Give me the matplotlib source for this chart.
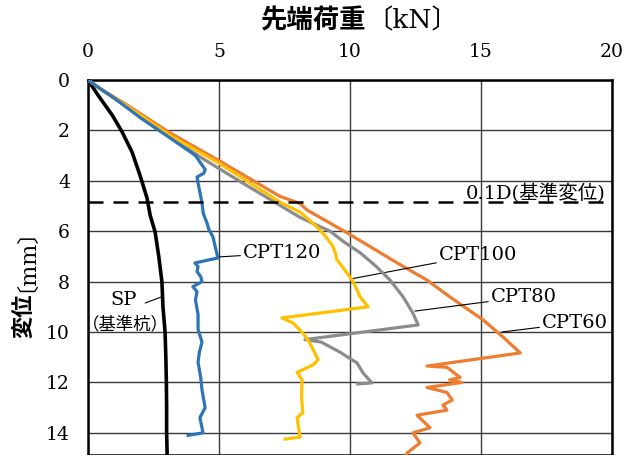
import matplotlib
matplotlib.use("Agg")
import matplotlib.pyplot as plt

plt.rcParams['font.family'] = ['DejaVu Serif', 'Noto Sans CJK JP']

# Load (kN) vs settlement (mm) for each pile
sp_load = [0, 0.38, 0.92, 1.3, 1.68, 1.98, 2.25, 2.37, 2.56, 2.7, 2.82, 2.86, 2.94, 2.97, 2.99, 3.0, 3.0, 3.02]
sp_disp = [0, 0.6, 1.39, 2.06, 2.86, 3.77, 4.68, 5.36, 6.03, 7.0, 8.0, 9.0, 10.0, 11.0, 12.0, 13.0, 14.0, 14.9]

cpt120_load = [0, 0.4, 1.0, 2.0, 3.13, 3.9, 4.1, 4.47, 4.42, 4.16, 4.22, 4.35, 4.4, 4.55, 4.6, 4.77, 4.85,
               4.96, 4.08, 4.2, 4.16, 4.3, 4.35, 4.0, 4.16, 4.1, 4.2, 4.2, 4.35, 4.25, 4.2, 4.3, 4.35, 4.47,
               4.27, 4.39, 3.82]
cpt120_disp = [0, 0.3, 0.72, 1.5, 2.3, 2.85, 3.0, 3.55, 3.7, 3.85, 4.2, 4.88, 5.3, 5.7, 5.9, 6.23, 6.6,
               7.06, 7.26, 7.4, 7.6, 7.8, 8.0, 8.2, 8.4, 8.73, 9.3, 9.9, 10.4, 10.8, 11.2, 11.8, 12.3, 13.0,
               13.4, 14.0, 14.1]

cpt100_load = [0, 0.5, 1.5, 3.13, 5.0, 7.33, 8.09, 8.6, 8.85, 9.1, 9.35, 9.45, 9.5, 9.7, 9.88, 10.08, 10.27,
               10.38, 10.69, 7.4, 7.82, 8.2, 8.47, 8.78, 8.6, 7.98, 8.17, 8.15, 8.2, 7.98, 8.09, 7.52]
cpt100_disp = [0, 0.38, 1.05, 2.2, 3.3, 4.85, 5.24, 5.7, 5.95, 6.25, 6.6, 6.9, 7.14, 7.4, 7.66, 7.94, 8.33,
               8.6, 9.0, 9.44, 9.64, 10.04, 10.44, 11.1, 11.3, 11.6, 11.9, 12.6, 13.2, 13.4, 14.17, 14.25]

cpt80_load = [0, 0.5, 1.5, 3.13, 4.27, 6.0, 8.09, 9.24, 9.8, 10.38, 11.0, 11.53, 12.02, 12.2, 12.4, 12.6,
              8.28, 8.9, 9.62, 10.27, 10.5, 10.84, 10.3]
cpt80_disp = [0, 0.38, 1.08, 2.25, 3.05, 4.15, 5.45, 6.0, 6.45, 6.85, 7.4, 7.94, 8.6, 8.9, 9.25, 9.72,
              10.3, 10.4, 10.8, 11.23, 11.63, 12.02, 12.06]

cpt60_load = [0, 0.5, 1.5, 3.13, 5.0, 7.33, 8.09, 8.36, 9.9, 11.8, 12.94, 13.8, 15.08, 15.84, 16.5,
              12.94, 13.7, 14.2, 13.8, 14.27, 12.94, 13.7, 13.9, 13.55, 13.7, 12.56, 13.05, 12.4, 12.67,
              12.18, 12.1]
cpt60_disp = [0, 0.36, 1.0, 2.1, 3.2, 4.62, 4.9, 5.16, 6.07, 7.26, 7.94, 8.6, 9.52, 10.2, 10.83,
              11.35, 11.4, 11.8, 11.9, 12.0, 12.2, 12.4, 12.7, 12.9, 13.1, 13.3, 13.8, 14.0, 14.4,
              14.8, 15.0]

x_ticks = [0, 5, 10, 15, 20]
y_ticks = [0, 2, 4, 6, 8, 10, 12, 14]
ref_disp = 4.86  # 0.1D reference settlement

fig = plt.figure(figsize=(6.27, 4.55), dpi=100)
ax = fig.add_axes([0.1404, 0.0, 0.8357, 0.8242])

ax.plot(sp_load, sp_disp, color='black', lw=2.6, solid_joinstyle='round', zorder=5)
ax.plot(cpt120_load, cpt120_disp, color='#2E75B6', lw=2.3, solid_joinstyle='round', zorder=6)
ax.plot(cpt100_load, cpt100_disp, color='#FFC000', lw=2.3, solid_joinstyle='round', zorder=5)
ax.plot(cpt80_load, cpt80_disp, color='#8C8C8C', lw=2.3, solid_joinstyle='round', zorder=4)
ax.plot(cpt60_load, cpt60_disp, color='#ED7D31', lw=2.3, solid_joinstyle='round', zorder=3)

ax.axhline(ref_disp, color='black', lw=1.8, dashes=(6, 4), zorder=7)

ax.set_xlim(0, 20)
ax.set_ylim(14.88, 0)
ax.set_xticks(x_ticks)
ax.set_yticks(y_ticks)
ax.xaxis.tick_top()
ax.tick_params(axis='both', length=0, labelsize=13.5)
ax.tick_params(axis='x', pad=14)
ax.tick_params(axis='y', pad=13)
ax.grid(True, color='#3a3a3a', lw=1.0)
ax.set_axisbelow(True)
for s in ax.spines.values():
    s.set_color('black')
    s.set_linewidth(1.8)

# Axis titles: bold kanji, regular brackets and unit
fig.text(0.584, 0.955, '先端荷重', ha='right', va='center', fontsize=19, fontweight='bold')
fig.text(0.584, 0.955, '〔kN〕', ha='left', va='center', fontsize=19)
fig.text(0.040, 1 - 338 / 455, '変位', ha='center', va='bottom', rotation=90, fontsize=16,
         fontweight='bold')
fig.text(0.024, 1 - 292 / 455, '〔mm〕', ha='center', va='bottom', rotation=90, fontsize=16)

lead = dict(arrowstyle='-', color='black', lw=0.8, shrinkA=0, shrinkB=0)
ax.annotate('CPT120', xy=(5.0, 7.02), xytext=(5.92, 6.87), fontsize=14, va='center', ha='left',
            arrowprops=lead)
ax.annotate('CPT100', xy=(10.0, 7.9), xytext=(13.4, 6.94), fontsize=14, va='center', ha='left',
            arrowprops=lead)
ax.annotate('CPT80', xy=(12.48, 9.17), xytext=(15.38, 8.61), fontsize=14, va='center', ha='left',
            arrowprops=lead)
ax.annotate('CPT60', xy=(15.8, 10.0), xytext=(17.33, 9.64), fontsize=14, va='center', ha='left',
            arrowprops=lead)
ax.annotate('', xy=(2.82, 8.6), xytext=(2.18, 8.85), arrowprops=lead)
ax.text(1.34, 8.73, 'SP', fontsize=14, ha='center', va='center')
ax.text(1.41, 9.72, '（基準杭）', fontsize=12.5, ha='center', va='center')
ax.text(19.75, 4.72, '0.1D(基準変位)', fontsize=14, ha='right', va='baseline', zorder=8)

fig.savefig('out.png', dpi=100)
